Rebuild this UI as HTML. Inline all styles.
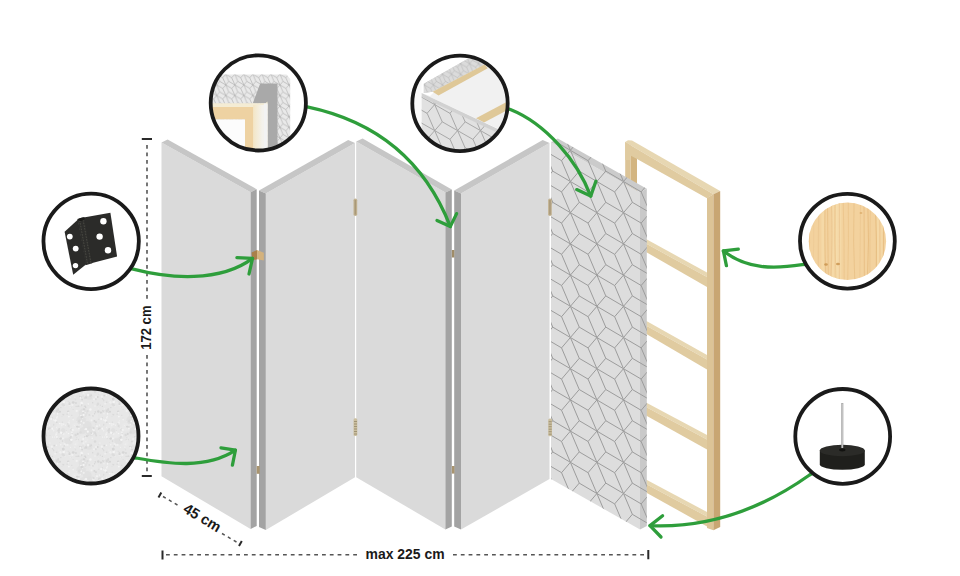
<!DOCTYPE html>
<html><head><meta charset="utf-8"><style>html,body{margin:0;padding:0;background:#fff;overflow:hidden}svg{display:block}</style></head>
<body><svg width="960" height="576" viewBox="0 0 960 576">
<rect width="960" height="576" fill="#fff"/>
<polygon points="630.5,148 637,151.5 637,200 630.5,200" fill="#d3b581"/>
<polygon points="625.2,142 630.5,145.2 630.5,200 625.2,200" fill="#dcc497"/>
<polygon points="625.2,142 628,140.2 632,140.6 720.2,191 713.4,194.3" fill="#e7d7b2"/>
<polygon points="625.2,142 713.4,194.3 707,198.2 637,158.9 630.5,155.5 630.5,160 625.2,160" fill="#e0cba0"/>
<polygon points="646,239.0 707,272.5 707,277.1 646,243.6" fill="#e7d7b2"/>
<polygon points="646,243.6 707,277.1 707,287.0 646,252.0" fill="#e0cba0"/>
<polygon points="646,320.8 707,355.0 707,359.6 646,325.40000000000003" fill="#e7d7b2"/>
<polygon points="646,325.40000000000003 707,359.6 707,369.5 646,333.8" fill="#e0cba0"/>
<polygon points="646,402.5 707,435.0 707,439.6 646,407.1" fill="#e7d7b2"/>
<polygon points="646,407.1 707,439.6 707,449.5 646,415.5" fill="#e0cba0"/>
<polygon points="646,479.4 707,512.0 707,516.6 646,484.0" fill="#e7d7b2"/>
<polygon points="646,484.0 707,516.6 707,526.5 646,492.4" fill="#e0cba0"/>
<polygon points="707,197.9 713.4,194.3 713.4,530.3 707,528" fill="#dcc497"/>
<polygon points="713.4,194.3 720.2,191 720.2,527 713.4,530.3" fill="#c8a673"/>
<polygon points="161.5,142.6 250.6,192.2 250.6,529.0 161.5,476.3" fill="#dadada" />
<polygon points="161.5,142.6 167.6,139.6 256.7,189.2 250.6,192.2" fill="#c6c6c6" />
<polygon points="250.6,192.2 256.7,189.2 256.7,526.0 250.6,529.0" fill="#a3a3a3" />
<polygon points="265.8,193.6 355.0,143.0 355.0,477.3 265.8,530.0" fill="#dadada" />
<polygon points="259.0,190.6 265.8,193.6 355.0,143.0 348.2,140.0" fill="#c6c6c6" />
<polygon points="259.0,190.6 265.8,193.6 265.8,530.0 259.0,527.0" fill="#a3a3a3" />
<polygon points="356.2,141.5 445.4,192.6 445.4,529.4 356.2,477.3" fill="#dadada" />
<polygon points="356.2,141.5 362.6,138.5 451.8,189.6 445.4,192.6" fill="#c6c6c6" />
<polygon points="445.4,192.6 451.8,189.6 451.8,526.4 445.4,529.4" fill="#a3a3a3" />
<polygon points="461.0,193.6 549.5,143.0 549.5,479.0 461.0,529.6" fill="#dadada" />
<polygon points="454.2,190.6 461.0,193.6 549.5,143.0 542.7,140.0" fill="#c6c6c6" />
<polygon points="454.2,190.6 461.0,193.6 461.0,529.6 454.2,526.6" fill="#a3a3a3" />
<clipPath id="c5"><polygon points="551.0,142.2 640.0,192.3 640.0,529.5 551.0,479.0"/><polygon points="551.0,142.2 557.8,138.6 646.8,188.7 640.0,192.3"/><polygon points="640.0,192.3 646.8,188.7 646.8,525.9 640.0,529.5"/></clipPath>
<polygon points="551.0,142.2 640.0,192.3 640.0,529.5 551.0,479.0" fill="#dddddd"/><polygon points="551.0,142.2 557.8,138.6 646.8,188.7 640.0,192.3" fill="#cbcbcb"/><polygon points="640.0,192.3 646.8,188.7 646.8,525.9 640.0,529.5" fill="#c9c9c9"/>
<path d="M517.3 87.9l8.85 -10.40M517.3 87.9l-8.85 10.40M517.3 87.9l8.85 20.80M517.3 87.9l-8.85 -20.80M517.3 87.9l17.70 10.40M517.3 87.9l-17.70 -10.40M517.3 119.1l8.85 -10.40M517.3 119.1l-8.85 10.40M517.3 119.1l8.85 20.80M517.3 119.1l-8.85 -20.80M517.3 119.1l17.70 10.40M517.3 119.1l-17.70 -10.40M517.3 150.3l8.85 -10.40M517.3 150.3l-8.85 10.40M517.3 150.3l8.85 20.80M517.3 150.3l-8.85 -20.80M517.3 150.3l17.70 10.40M517.3 150.3l-17.70 -10.40M517.3 181.5l8.85 -10.40M517.3 181.5l-8.85 10.40M517.3 181.5l8.85 20.80M517.3 181.5l-8.85 -20.80M517.3 181.5l17.70 10.40M517.3 181.5l-17.70 -10.40M517.3 212.7l8.85 -10.40M517.3 212.7l-8.85 10.40M517.3 212.7l8.85 20.80M517.3 212.7l-8.85 -20.80M517.3 212.7l17.70 10.40M517.3 212.7l-17.70 -10.40M517.3 243.9l8.85 -10.40M517.3 243.9l-8.85 10.40M517.3 243.9l8.85 20.80M517.3 243.9l-8.85 -20.80M517.3 243.9l17.70 10.40M517.3 243.9l-17.70 -10.40M517.3 275.1l8.85 -10.40M517.3 275.1l-8.85 10.40M517.3 275.1l8.85 20.80M517.3 275.1l-8.85 -20.80M517.3 275.1l17.70 10.40M517.3 275.1l-17.70 -10.40M517.3 306.3l8.85 -10.40M517.3 306.3l-8.85 10.40M517.3 306.3l8.85 20.80M517.3 306.3l-8.85 -20.80M517.3 306.3l17.70 10.40M517.3 306.3l-17.70 -10.40M517.3 337.5l8.85 -10.40M517.3 337.5l-8.85 10.40M517.3 337.5l8.85 20.80M517.3 337.5l-8.85 -20.80M517.3 337.5l17.70 10.40M517.3 337.5l-17.70 -10.40M517.3 368.7l8.85 -10.40M517.3 368.7l-8.85 10.40M517.3 368.7l8.85 20.80M517.3 368.7l-8.85 -20.80M517.3 368.7l17.70 10.40M517.3 368.7l-17.70 -10.40M517.3 399.9l8.85 -10.40M517.3 399.9l-8.85 10.40M517.3 399.9l8.85 20.80M517.3 399.9l-8.85 -20.80M517.3 399.9l17.70 10.40M517.3 399.9l-17.70 -10.40M517.3 431.1l8.85 -10.40M517.3 431.1l-8.85 10.40M517.3 431.1l8.85 20.80M517.3 431.1l-8.85 -20.80M517.3 431.1l17.70 10.40M517.3 431.1l-17.70 -10.40M517.3 462.3l8.85 -10.40M517.3 462.3l-8.85 10.40M517.3 462.3l8.85 20.80M517.3 462.3l-8.85 -20.80M517.3 462.3l17.70 10.40M517.3 462.3l-17.70 -10.40M517.3 493.5l8.85 -10.40M517.3 493.5l-8.85 10.40M517.3 493.5l8.85 20.80M517.3 493.5l-8.85 -20.80M517.3 493.5l17.70 10.40M517.3 493.5l-17.70 -10.40M517.3 524.7l8.85 -10.40M517.3 524.7l-8.85 10.40M517.3 524.7l8.85 20.80M517.3 524.7l-8.85 -20.80M517.3 524.7l17.70 10.40M517.3 524.7l-17.70 -10.40M517.3 555.9l8.85 -10.40M517.3 555.9l-8.85 10.40M517.3 555.9l8.85 20.80M517.3 555.9l-8.85 -20.80M517.3 555.9l17.70 10.40M517.3 555.9l-17.70 -10.40M543.9 87.9l8.85 -10.40M543.9 87.9l-8.85 10.40M543.9 87.9l8.85 20.80M543.9 87.9l-8.85 -20.80M543.9 87.9l17.70 10.40M543.9 87.9l-17.70 -10.40M543.9 119.1l8.85 -10.40M543.9 119.1l-8.85 10.40M543.9 119.1l8.85 20.80M543.9 119.1l-8.85 -20.80M543.9 119.1l17.70 10.40M543.9 119.1l-17.70 -10.40M543.9 150.3l8.85 -10.40M543.9 150.3l-8.85 10.40M543.9 150.3l8.85 20.80M543.9 150.3l-8.85 -20.80M543.9 150.3l17.70 10.40M543.9 150.3l-17.70 -10.40M543.9 181.5l8.85 -10.40M543.9 181.5l-8.85 10.40M543.9 181.5l8.85 20.80M543.9 181.5l-8.85 -20.80M543.9 181.5l17.70 10.40M543.9 181.5l-17.70 -10.40M543.9 212.7l8.85 -10.40M543.9 212.7l-8.85 10.40M543.9 212.7l8.85 20.80M543.9 212.7l-8.85 -20.80M543.9 212.7l17.70 10.40M543.9 212.7l-17.70 -10.40M543.9 243.9l8.85 -10.40M543.9 243.9l-8.85 10.40M543.9 243.9l8.85 20.80M543.9 243.9l-8.85 -20.80M543.9 243.9l17.70 10.40M543.9 243.9l-17.70 -10.40M543.9 275.1l8.85 -10.40M543.9 275.1l-8.85 10.40M543.9 275.1l8.85 20.80M543.9 275.1l-8.85 -20.80M543.9 275.1l17.70 10.40M543.9 275.1l-17.70 -10.40M543.9 306.3l8.85 -10.40M543.9 306.3l-8.85 10.40M543.9 306.3l8.85 20.80M543.9 306.3l-8.85 -20.80M543.9 306.3l17.70 10.40M543.9 306.3l-17.70 -10.40M543.9 337.5l8.85 -10.40M543.9 337.5l-8.85 10.40M543.9 337.5l8.85 20.80M543.9 337.5l-8.85 -20.80M543.9 337.5l17.70 10.40M543.9 337.5l-17.70 -10.40M543.9 368.7l8.85 -10.40M543.9 368.7l-8.85 10.40M543.9 368.7l8.85 20.80M543.9 368.7l-8.85 -20.80M543.9 368.7l17.70 10.40M543.9 368.7l-17.70 -10.40M543.9 399.9l8.85 -10.40M543.9 399.9l-8.85 10.40M543.9 399.9l8.85 20.80M543.9 399.9l-8.85 -20.80M543.9 399.9l17.70 10.40M543.9 399.9l-17.70 -10.40M543.9 431.1l8.85 -10.40M543.9 431.1l-8.85 10.40M543.9 431.1l8.85 20.80M543.9 431.1l-8.85 -20.80M543.9 431.1l17.70 10.40M543.9 431.1l-17.70 -10.40M543.9 462.3l8.85 -10.40M543.9 462.3l-8.85 10.40M543.9 462.3l8.85 20.80M543.9 462.3l-8.85 -20.80M543.9 462.3l17.70 10.40M543.9 462.3l-17.70 -10.40M543.9 493.5l8.85 -10.40M543.9 493.5l-8.85 10.40M543.9 493.5l8.85 20.80M543.9 493.5l-8.85 -20.80M543.9 493.5l17.70 10.40M543.9 493.5l-17.70 -10.40M543.9 524.7l8.85 -10.40M543.9 524.7l-8.85 10.40M543.9 524.7l8.85 20.80M543.9 524.7l-8.85 -20.80M543.9 524.7l17.70 10.40M543.9 524.7l-17.70 -10.40M543.9 555.9l8.85 -10.40M543.9 555.9l-8.85 10.40M543.9 555.9l8.85 20.80M543.9 555.9l-8.85 -20.80M543.9 555.9l17.70 10.40M543.9 555.9l-17.70 -10.40M570.4 87.9l8.85 -10.40M570.4 87.9l-8.85 10.40M570.4 87.9l8.85 20.80M570.4 87.9l-8.85 -20.80M570.4 87.9l17.70 10.40M570.4 87.9l-17.70 -10.40M570.4 119.1l8.85 -10.40M570.4 119.1l-8.85 10.40M570.4 119.1l8.85 20.80M570.4 119.1l-8.85 -20.80M570.4 119.1l17.70 10.40M570.4 119.1l-17.70 -10.40M570.4 150.3l8.85 -10.40M570.4 150.3l-8.85 10.40M570.4 150.3l8.85 20.80M570.4 150.3l-8.85 -20.80M570.4 150.3l17.70 10.40M570.4 150.3l-17.70 -10.40M570.4 181.5l8.85 -10.40M570.4 181.5l-8.85 10.40M570.4 181.5l8.85 20.80M570.4 181.5l-8.85 -20.80M570.4 181.5l17.70 10.40M570.4 181.5l-17.70 -10.40M570.4 212.7l8.85 -10.40M570.4 212.7l-8.85 10.40M570.4 212.7l8.85 20.80M570.4 212.7l-8.85 -20.80M570.4 212.7l17.70 10.40M570.4 212.7l-17.70 -10.40M570.4 243.9l8.85 -10.40M570.4 243.9l-8.85 10.40M570.4 243.9l8.85 20.80M570.4 243.9l-8.85 -20.80M570.4 243.9l17.70 10.40M570.4 243.9l-17.70 -10.40M570.4 275.1l8.85 -10.40M570.4 275.1l-8.85 10.40M570.4 275.1l8.85 20.80M570.4 275.1l-8.85 -20.80M570.4 275.1l17.70 10.40M570.4 275.1l-17.70 -10.40M570.4 306.3l8.85 -10.40M570.4 306.3l-8.85 10.40M570.4 306.3l8.85 20.80M570.4 306.3l-8.85 -20.80M570.4 306.3l17.70 10.40M570.4 306.3l-17.70 -10.40M570.4 337.5l8.85 -10.40M570.4 337.5l-8.85 10.40M570.4 337.5l8.85 20.80M570.4 337.5l-8.85 -20.80M570.4 337.5l17.70 10.40M570.4 337.5l-17.70 -10.40M570.4 368.7l8.85 -10.40M570.4 368.7l-8.85 10.40M570.4 368.7l8.85 20.80M570.4 368.7l-8.85 -20.80M570.4 368.7l17.70 10.40M570.4 368.7l-17.70 -10.40M570.4 399.9l8.85 -10.40M570.4 399.9l-8.85 10.40M570.4 399.9l8.85 20.80M570.4 399.9l-8.85 -20.80M570.4 399.9l17.70 10.40M570.4 399.9l-17.70 -10.40M570.4 431.1l8.85 -10.40M570.4 431.1l-8.85 10.40M570.4 431.1l8.85 20.80M570.4 431.1l-8.85 -20.80M570.4 431.1l17.70 10.40M570.4 431.1l-17.70 -10.40M570.4 462.3l8.85 -10.40M570.4 462.3l-8.85 10.40M570.4 462.3l8.85 20.80M570.4 462.3l-8.85 -20.80M570.4 462.3l17.70 10.40M570.4 462.3l-17.70 -10.40M570.4 493.5l8.85 -10.40M570.4 493.5l-8.85 10.40M570.4 493.5l8.85 20.80M570.4 493.5l-8.85 -20.80M570.4 493.5l17.70 10.40M570.4 493.5l-17.70 -10.40M570.4 524.7l8.85 -10.40M570.4 524.7l-8.85 10.40M570.4 524.7l8.85 20.80M570.4 524.7l-8.85 -20.80M570.4 524.7l17.70 10.40M570.4 524.7l-17.70 -10.40M570.4 555.9l8.85 -10.40M570.4 555.9l-8.85 10.40M570.4 555.9l8.85 20.80M570.4 555.9l-8.85 -20.80M570.4 555.9l17.70 10.40M570.4 555.9l-17.70 -10.40M596.9 87.9l8.85 -10.40M596.9 87.9l-8.85 10.40M596.9 87.9l8.85 20.80M596.9 87.9l-8.85 -20.80M596.9 87.9l17.70 10.40M596.9 87.9l-17.70 -10.40M596.9 119.1l8.85 -10.40M596.9 119.1l-8.85 10.40M596.9 119.1l8.85 20.80M596.9 119.1l-8.85 -20.80M596.9 119.1l17.70 10.40M596.9 119.1l-17.70 -10.40M596.9 150.3l8.85 -10.40M596.9 150.3l-8.85 10.40M596.9 150.3l8.85 20.80M596.9 150.3l-8.85 -20.80M596.9 150.3l17.70 10.40M596.9 150.3l-17.70 -10.40M596.9 181.5l8.85 -10.40M596.9 181.5l-8.85 10.40M596.9 181.5l8.85 20.80M596.9 181.5l-8.85 -20.80M596.9 181.5l17.70 10.40M596.9 181.5l-17.70 -10.40M596.9 212.7l8.85 -10.40M596.9 212.7l-8.85 10.40M596.9 212.7l8.85 20.80M596.9 212.7l-8.85 -20.80M596.9 212.7l17.70 10.40M596.9 212.7l-17.70 -10.40M596.9 243.9l8.85 -10.40M596.9 243.9l-8.85 10.40M596.9 243.9l8.85 20.80M596.9 243.9l-8.85 -20.80M596.9 243.9l17.70 10.40M596.9 243.9l-17.70 -10.40M596.9 275.1l8.85 -10.40M596.9 275.1l-8.85 10.40M596.9 275.1l8.85 20.80M596.9 275.1l-8.85 -20.80M596.9 275.1l17.70 10.40M596.9 275.1l-17.70 -10.40M596.9 306.3l8.85 -10.40M596.9 306.3l-8.85 10.40M596.9 306.3l8.85 20.80M596.9 306.3l-8.85 -20.80M596.9 306.3l17.70 10.40M596.9 306.3l-17.70 -10.40M596.9 337.5l8.85 -10.40M596.9 337.5l-8.85 10.40M596.9 337.5l8.85 20.80M596.9 337.5l-8.85 -20.80M596.9 337.5l17.70 10.40M596.9 337.5l-17.70 -10.40M596.9 368.7l8.85 -10.40M596.9 368.7l-8.85 10.40M596.9 368.7l8.85 20.80M596.9 368.7l-8.85 -20.80M596.9 368.7l17.70 10.40M596.9 368.7l-17.70 -10.40M596.9 399.9l8.85 -10.40M596.9 399.9l-8.85 10.40M596.9 399.9l8.85 20.80M596.9 399.9l-8.85 -20.80M596.9 399.9l17.70 10.40M596.9 399.9l-17.70 -10.40M596.9 431.1l8.85 -10.40M596.9 431.1l-8.85 10.40M596.9 431.1l8.85 20.80M596.9 431.1l-8.85 -20.80M596.9 431.1l17.70 10.40M596.9 431.1l-17.70 -10.40M596.9 462.3l8.85 -10.40M596.9 462.3l-8.85 10.40M596.9 462.3l8.85 20.80M596.9 462.3l-8.85 -20.80M596.9 462.3l17.70 10.40M596.9 462.3l-17.70 -10.40M596.9 493.5l8.85 -10.40M596.9 493.5l-8.85 10.40M596.9 493.5l8.85 20.80M596.9 493.5l-8.85 -20.80M596.9 493.5l17.70 10.40M596.9 493.5l-17.70 -10.40M596.9 524.7l8.85 -10.40M596.9 524.7l-8.85 10.40M596.9 524.7l8.85 20.80M596.9 524.7l-8.85 -20.80M596.9 524.7l17.70 10.40M596.9 524.7l-17.70 -10.40M596.9 555.9l8.85 -10.40M596.9 555.9l-8.85 10.40M596.9 555.9l8.85 20.80M596.9 555.9l-8.85 -20.80M596.9 555.9l17.70 10.40M596.9 555.9l-17.70 -10.40M623.5 87.9l8.85 -10.40M623.5 87.9l-8.85 10.40M623.5 87.9l8.85 20.80M623.5 87.9l-8.85 -20.80M623.5 87.9l17.70 10.40M623.5 87.9l-17.70 -10.40M623.5 119.1l8.85 -10.40M623.5 119.1l-8.85 10.40M623.5 119.1l8.85 20.80M623.5 119.1l-8.85 -20.80M623.5 119.1l17.70 10.40M623.5 119.1l-17.70 -10.40M623.5 150.3l8.85 -10.40M623.5 150.3l-8.85 10.40M623.5 150.3l8.85 20.80M623.5 150.3l-8.85 -20.80M623.5 150.3l17.70 10.40M623.5 150.3l-17.70 -10.40M623.5 181.5l8.85 -10.40M623.5 181.5l-8.85 10.40M623.5 181.5l8.85 20.80M623.5 181.5l-8.85 -20.80M623.5 181.5l17.70 10.40M623.5 181.5l-17.70 -10.40M623.5 212.7l8.85 -10.40M623.5 212.7l-8.85 10.40M623.5 212.7l8.85 20.80M623.5 212.7l-8.85 -20.80M623.5 212.7l17.70 10.40M623.5 212.7l-17.70 -10.40M623.5 243.9l8.85 -10.40M623.5 243.9l-8.85 10.40M623.5 243.9l8.85 20.80M623.5 243.9l-8.85 -20.80M623.5 243.9l17.70 10.40M623.5 243.9l-17.70 -10.40M623.5 275.1l8.85 -10.40M623.5 275.1l-8.85 10.40M623.5 275.1l8.85 20.80M623.5 275.1l-8.85 -20.80M623.5 275.1l17.70 10.40M623.5 275.1l-17.70 -10.40M623.5 306.3l8.85 -10.40M623.5 306.3l-8.85 10.40M623.5 306.3l8.85 20.80M623.5 306.3l-8.85 -20.80M623.5 306.3l17.70 10.40M623.5 306.3l-17.70 -10.40M623.5 337.5l8.85 -10.40M623.5 337.5l-8.85 10.40M623.5 337.5l8.85 20.80M623.5 337.5l-8.85 -20.80M623.5 337.5l17.70 10.40M623.5 337.5l-17.70 -10.40M623.5 368.7l8.85 -10.40M623.5 368.7l-8.85 10.40M623.5 368.7l8.85 20.80M623.5 368.7l-8.85 -20.80M623.5 368.7l17.70 10.40M623.5 368.7l-17.70 -10.40M623.5 399.9l8.85 -10.40M623.5 399.9l-8.85 10.40M623.5 399.9l8.85 20.80M623.5 399.9l-8.85 -20.80M623.5 399.9l17.70 10.40M623.5 399.9l-17.70 -10.40M623.5 431.1l8.85 -10.40M623.5 431.1l-8.85 10.40M623.5 431.1l8.85 20.80M623.5 431.1l-8.85 -20.80M623.5 431.1l17.70 10.40M623.5 431.1l-17.70 -10.40M623.5 462.3l8.85 -10.40M623.5 462.3l-8.85 10.40M623.5 462.3l8.85 20.80M623.5 462.3l-8.85 -20.80M623.5 462.3l17.70 10.40M623.5 462.3l-17.70 -10.40M623.5 493.5l8.85 -10.40M623.5 493.5l-8.85 10.40M623.5 493.5l8.85 20.80M623.5 493.5l-8.85 -20.80M623.5 493.5l17.70 10.40M623.5 493.5l-17.70 -10.40M623.5 524.7l8.85 -10.40M623.5 524.7l-8.85 10.40M623.5 524.7l8.85 20.80M623.5 524.7l-8.85 -20.80M623.5 524.7l17.70 10.40M623.5 524.7l-17.70 -10.40M623.5 555.9l8.85 -10.40M623.5 555.9l-8.85 10.40M623.5 555.9l8.85 20.80M623.5 555.9l-8.85 -20.80M623.5 555.9l17.70 10.40M623.5 555.9l-17.70 -10.40M650.0 87.9l8.85 -10.40M650.0 87.9l-8.85 10.40M650.0 87.9l8.85 20.80M650.0 87.9l-8.85 -20.80M650.0 87.9l17.70 10.40M650.0 87.9l-17.70 -10.40M650.0 119.1l8.85 -10.40M650.0 119.1l-8.85 10.40M650.0 119.1l8.85 20.80M650.0 119.1l-8.85 -20.80M650.0 119.1l17.70 10.40M650.0 119.1l-17.70 -10.40M650.0 150.3l8.85 -10.40M650.0 150.3l-8.85 10.40M650.0 150.3l8.85 20.80M650.0 150.3l-8.85 -20.80M650.0 150.3l17.70 10.40M650.0 150.3l-17.70 -10.40M650.0 181.5l8.85 -10.40M650.0 181.5l-8.85 10.40M650.0 181.5l8.85 20.80M650.0 181.5l-8.85 -20.80M650.0 181.5l17.70 10.40M650.0 181.5l-17.70 -10.40M650.0 212.7l8.85 -10.40M650.0 212.7l-8.85 10.40M650.0 212.7l8.85 20.80M650.0 212.7l-8.85 -20.80M650.0 212.7l17.70 10.40M650.0 212.7l-17.70 -10.40M650.0 243.9l8.85 -10.40M650.0 243.9l-8.85 10.40M650.0 243.9l8.85 20.80M650.0 243.9l-8.85 -20.80M650.0 243.9l17.70 10.40M650.0 243.9l-17.70 -10.40M650.0 275.1l8.85 -10.40M650.0 275.1l-8.85 10.40M650.0 275.1l8.85 20.80M650.0 275.1l-8.85 -20.80M650.0 275.1l17.70 10.40M650.0 275.1l-17.70 -10.40M650.0 306.3l8.85 -10.40M650.0 306.3l-8.85 10.40M650.0 306.3l8.85 20.80M650.0 306.3l-8.85 -20.80M650.0 306.3l17.70 10.40M650.0 306.3l-17.70 -10.40M650.0 337.5l8.85 -10.40M650.0 337.5l-8.85 10.40M650.0 337.5l8.85 20.80M650.0 337.5l-8.85 -20.80M650.0 337.5l17.70 10.40M650.0 337.5l-17.70 -10.40M650.0 368.7l8.85 -10.40M650.0 368.7l-8.85 10.40M650.0 368.7l8.85 20.80M650.0 368.7l-8.85 -20.80M650.0 368.7l17.70 10.40M650.0 368.7l-17.70 -10.40M650.0 399.9l8.85 -10.40M650.0 399.9l-8.85 10.40M650.0 399.9l8.85 20.80M650.0 399.9l-8.85 -20.80M650.0 399.9l17.70 10.40M650.0 399.9l-17.70 -10.40M650.0 431.1l8.85 -10.40M650.0 431.1l-8.85 10.40M650.0 431.1l8.85 20.80M650.0 431.1l-8.85 -20.80M650.0 431.1l17.70 10.40M650.0 431.1l-17.70 -10.40M650.0 462.3l8.85 -10.40M650.0 462.3l-8.85 10.40M650.0 462.3l8.85 20.80M650.0 462.3l-8.85 -20.80M650.0 462.3l17.70 10.40M650.0 462.3l-17.70 -10.40M650.0 493.5l8.85 -10.40M650.0 493.5l-8.85 10.40M650.0 493.5l8.85 20.80M650.0 493.5l-8.85 -20.80M650.0 493.5l17.70 10.40M650.0 493.5l-17.70 -10.40M650.0 524.7l8.85 -10.40M650.0 524.7l-8.85 10.40M650.0 524.7l8.85 20.80M650.0 524.7l-8.85 -20.80M650.0 524.7l17.70 10.40M650.0 524.7l-17.70 -10.40M650.0 555.9l8.85 -10.40M650.0 555.9l-8.85 10.40M650.0 555.9l8.85 20.80M650.0 555.9l-8.85 -20.80M650.0 555.9l17.70 10.40M650.0 555.9l-17.70 -10.40M676.6 87.9l8.85 -10.40M676.6 87.9l-8.85 10.40M676.6 87.9l8.85 20.80M676.6 87.9l-8.85 -20.80M676.6 87.9l17.70 10.40M676.6 87.9l-17.70 -10.40M676.6 119.1l8.85 -10.40M676.6 119.1l-8.85 10.40M676.6 119.1l8.85 20.80M676.6 119.1l-8.85 -20.80M676.6 119.1l17.70 10.40M676.6 119.1l-17.70 -10.40M676.6 150.3l8.85 -10.40M676.6 150.3l-8.85 10.40M676.6 150.3l8.85 20.80M676.6 150.3l-8.85 -20.80M676.6 150.3l17.70 10.40M676.6 150.3l-17.70 -10.40M676.6 181.5l8.85 -10.40M676.6 181.5l-8.85 10.40M676.6 181.5l8.85 20.80M676.6 181.5l-8.85 -20.80M676.6 181.5l17.70 10.40M676.6 181.5l-17.70 -10.40M676.6 212.7l8.85 -10.40M676.6 212.7l-8.85 10.40M676.6 212.7l8.85 20.80M676.6 212.7l-8.85 -20.80M676.6 212.7l17.70 10.40M676.6 212.7l-17.70 -10.40M676.6 243.9l8.85 -10.40M676.6 243.9l-8.85 10.40M676.6 243.9l8.85 20.80M676.6 243.9l-8.85 -20.80M676.6 243.9l17.70 10.40M676.6 243.9l-17.70 -10.40M676.6 275.1l8.85 -10.40M676.6 275.1l-8.85 10.40M676.6 275.1l8.85 20.80M676.6 275.1l-8.85 -20.80M676.6 275.1l17.70 10.40M676.6 275.1l-17.70 -10.40M676.6 306.3l8.85 -10.40M676.6 306.3l-8.85 10.40M676.6 306.3l8.85 20.80M676.6 306.3l-8.85 -20.80M676.6 306.3l17.70 10.40M676.6 306.3l-17.70 -10.40M676.6 337.5l8.85 -10.40M676.6 337.5l-8.85 10.40M676.6 337.5l8.85 20.80M676.6 337.5l-8.85 -20.80M676.6 337.5l17.70 10.40M676.6 337.5l-17.70 -10.40M676.6 368.7l8.85 -10.40M676.6 368.7l-8.85 10.40M676.6 368.7l8.85 20.80M676.6 368.7l-8.85 -20.80M676.6 368.7l17.70 10.40M676.6 368.7l-17.70 -10.40M676.6 399.9l8.85 -10.40M676.6 399.9l-8.85 10.40M676.6 399.9l8.85 20.80M676.6 399.9l-8.85 -20.80M676.6 399.9l17.70 10.40M676.6 399.9l-17.70 -10.40M676.6 431.1l8.85 -10.40M676.6 431.1l-8.85 10.40M676.6 431.1l8.85 20.80M676.6 431.1l-8.85 -20.80M676.6 431.1l17.70 10.40M676.6 431.1l-17.70 -10.40M676.6 462.3l8.85 -10.40M676.6 462.3l-8.85 10.40M676.6 462.3l8.85 20.80M676.6 462.3l-8.85 -20.80M676.6 462.3l17.70 10.40M676.6 462.3l-17.70 -10.40M676.6 493.5l8.85 -10.40M676.6 493.5l-8.85 10.40M676.6 493.5l8.85 20.80M676.6 493.5l-8.85 -20.80M676.6 493.5l17.70 10.40M676.6 493.5l-17.70 -10.40M676.6 524.7l8.85 -10.40M676.6 524.7l-8.85 10.40M676.6 524.7l8.85 20.80M676.6 524.7l-8.85 -20.80M676.6 524.7l17.70 10.40M676.6 524.7l-17.70 -10.40M676.6 555.9l8.85 -10.40M676.6 555.9l-8.85 10.40M676.6 555.9l8.85 20.80M676.6 555.9l-8.85 -20.80M676.6 555.9l17.70 10.40M676.6 555.9l-17.70 -10.40" stroke="#9c9c9c" stroke-width="1" fill="none" clip-path="url(#c5)"/>

<rect x="353.5" y="198.5" width="3.7" height="17.6" rx="1.8" fill="#c2b291"/><rect x="354.6" y="200" width="1.5" height="14.6" fill="#a99878"/>
<rect x="548.1" y="198.5" width="3.7" height="17.6" rx="1.8" fill="#c2b291"/><rect x="549.2" y="200" width="1.5" height="14.6" fill="#a99878"/>
<rect x="353.5" y="418.3" width="3.8" height="17.8" rx="1.6" fill="#cbbf9f"/>
<rect x="548.2" y="418.5" width="3.8" height="17.8" rx="1.6" fill="#cbbf9f"/>
<g stroke="#9a8d70" stroke-width="0.9"><path d="M354 421.5h3M354 424h3M354 426.5h3M354 429h3M354 431.5h3M354 434h3"/><path d="M548.7 421.7h3M548.7 424.2h3M548.7 426.7h3M548.7 429.2h3M548.7 431.7h3M548.7 434.2h3"/></g>
<rect x="451.9" y="250" width="2.4" height="7.5" fill="#9f8c68"/>
<rect x="451.9" y="466" width="2.6" height="7.6" fill="#a89470"/>
<rect x="256.7" y="466" width="3" height="7.8" fill="#a89470"/>
<polygon points="257,250 263.8,252.8 263.8,260.5 257.4,259.2" fill="#d4b27c"/><polygon points="251.6,252.6 257,250 257.4,259.2 252.4,260.3" fill="#a9804a"/>


<g fill="none" stroke="#2a2a2a">
<path d="M141.8 139h10.2M141.8 476h10" stroke-width="2"/>
<path d="M147 145v155M147 355v118" stroke="#555" stroke-width="1.6" stroke-dasharray="3.7 3.8"/>
<path d="M162.5 550.4v9.2M648.3 550v9.2" stroke-width="2"/>
<path d="M166 554.8h191.5M453 554.8h192" stroke="#555" stroke-width="1.6" stroke-dasharray="3.8 4"/>
<path d="M158.5 497.5l2.8 -5M239 546l2.8 -5" stroke-width="2"/>
<path d="M163 496.5l17 10M222 533.5l17 10" stroke="#555" stroke-width="1.5" stroke-dasharray="3.2 3.6"/>
</g>
<text x="0" y="0" transform="translate(151.2,349.8) rotate(-90)" font-family="Liberation Sans" font-weight="bold" font-size="15.2" textLength="44.3" lengthAdjust="spacingAndGlyphs" fill="#1a1a1a">172 cm</text>
<text x="365.6" y="558.9" font-family="Liberation Sans" font-weight="bold" font-size="14" textLength="79" lengthAdjust="spacingAndGlyphs" fill="#1a1a1a">max 225 cm</text>
<text x="0" y="0" transform="translate(182.2,511.5) rotate(31)" font-family="Liberation Sans" font-weight="bold" font-size="14.8" textLength="41" lengthAdjust="spacingAndGlyphs" fill="#1a1a1a">45 cm</text>

<g fill="none" stroke="#2e9e3b" stroke-width="3.3" stroke-linecap="round" stroke-linejoin="round">
<path d="M303 106.5L307.2 106.9C376.8 121.5 424.5 160.5 450.3 226.5"/><path d="M437 220.5L450.3 226.6L456.6 213.6"/>
<path d="M128 268L132.1 268.9C169.3 278.6 220.0 282.8 252.5 258.4"/><path d="M236.9 257.6L252.5 258.4L249 274"/>
<path d="M132 457.4L136.0 458.0C168.3 463.7 206.3 469.6 235.4 450.2"/><path d="M221 447.8L235.4 450.2L232.4 465.2"/>
<path d="M506 108L510.4 109.5C545.8 123.7 577.4 160.8 590.7 196.1"/><path d="M576.7 189.6L590.7 196.1L595.9 181.3"/>
<path d="M806 264.3L802.1 264.7C774.3 268.9 746.6 269.5 723.4 250.9"/><path d="M738.3 249.1L723.4 250.9L726.4 265.7"/>
<path d="M812 473.5L809.5 475.0C761.7 509.0 709.3 528.2 650.0 525.6"/><path d="M662.6 515.8L650 525.6L661 537"/>
</g>
<clipPath id="k1"><circle cx="258.3" cy="102.9" r="47.6"/></clipPath>
<circle cx="258.3" cy="102.9" r="47.6" fill="#fff"/>
<g clip-path="url(#k1)">
<pattern id="tex1" width="9.03" height="10.61" patternUnits="userSpaceOnUse"><rect width="9.03" height="10.61" fill="#e9e9e9"/><path d="M0.00 0.00l3.01 -3.54M0.00 0.00l-3.01 3.54M0.00 0.00l3.01 7.07M0.00 0.00l-3.01 -7.07M0.00 0.00l6.02 3.54M0.00 0.00l-6.02 -3.54M9.03 0.00l3.01 -3.54M9.03 0.00l-3.01 3.54M9.03 0.00l3.01 7.07M9.03 0.00l-3.01 -7.07M9.03 0.00l6.02 3.54M9.03 0.00l-6.02 -3.54M0.00 10.61l3.01 -3.54M0.00 10.61l-3.01 3.54M0.00 10.61l3.01 7.07M0.00 10.61l-3.01 -7.07M0.00 10.61l6.02 3.54M0.00 10.61l-6.02 -3.54M9.03 10.61l3.01 -3.54M9.03 10.61l-3.01 3.54M9.03 10.61l3.01 7.07M9.03 10.61l-3.01 -7.07M9.03 10.61l6.02 3.54M9.03 10.61l-6.02 -3.54" stroke="#a9a9a9" stroke-width="0.6" fill="none"/></pattern>
<linearGradient id="cr1" x1="0" x2="1" y1="0" y2="0"><stop offset="0" stop-color="#f3e6c6"/><stop offset="1" stop-color="#f4f4f2"/></linearGradient>
<polygon points="200,74.6 286.5,74.6 290.2,79 290.2,160 200,160" fill="url(#tex1)"/>
<polygon points="260.2,83.4 277.5,83.4 277.5,160 267.5,160 267.5,103.3 252.8,103.3" fill="#a9a9a9"/>
<polygon points="200,103.3 265.5,103.3 267.5,101.5 267.5,160 253.1,160 253.1,106.9 200,106.9" fill="#f4ecd4"/>
<rect x="253.1" y="105" width="10.7" height="56" fill="url(#cr1)"/>
<rect x="263.8" y="103.5" width="3.7" height="57" fill="#f3f3f3"/>
<polygon points="200,106.9 253.1,106.9 253.1,160 245,160 245,119.5 200,119.5" fill="#eed2a2"/>
<rect x="200" y="119.5" width="45" height="50" fill="#fcfcfc"/>
</g>
<circle cx="258.3" cy="102.9" r="47.6" fill="none" stroke="#1a1a1a" stroke-width="3.8"/><clipPath id="k2"><circle cx="460" cy="103.4" r="47.7"/></clipPath>
<circle cx="460" cy="103.4" r="47.7" fill="#fff"/>
<g clip-path="url(#k2)">
<polygon points="430,96 470,57.5 515,50 515,136.5 421.6,93.1" fill="#f1f1f1"/>
<polygon points="423.8,83.8 470,57.5 492,55 484.6,64.4 432.6,91.8 423.8,93" fill="#c6c6c6"/>
<polygon points="423.8,83.8 470,57.5 492,55 484.6,64.4 432.6,91.8 423.8,93" fill="url(#tex1)" opacity="0.6"/>
<polygon points="432.6,91.8 484.6,64.4 487.8,68.2 438.5,95.6" fill="#dfc898"/>
<polygon points="476,118.2 514,98 514,106.5 484,122.5" fill="#dfc898"/>
<polygon points="412,60 421.6,60 421.6,170 412,170" fill="#fafafa"/>
<polygon points="421.6,96.6 514,140 514,170 421.6,170" fill="#e1e1e1"/>
<clipPath id="cf2"><polygon points="421.6,96.6 514,140 514,170 421.6,170"/></clipPath>
<path d="M388.9 52.6l7.60 -8.70M388.9 52.6l-7.60 8.70M388.9 52.6l7.60 17.40M388.9 52.6l-7.60 -17.40M388.9 52.6l15.20 8.70M388.9 52.6l-15.20 -8.70M388.9 78.6l7.60 -8.70M388.9 78.6l-7.60 8.70M388.9 78.6l7.60 17.40M388.9 78.6l-7.60 -17.40M388.9 78.6l15.20 8.70M388.9 78.6l-15.20 -8.70M388.9 104.6l7.60 -8.70M388.9 104.6l-7.60 8.70M388.9 104.6l7.60 17.40M388.9 104.6l-7.60 -17.40M388.9 104.6l15.20 8.70M388.9 104.6l-15.20 -8.70M388.9 130.6l7.60 -8.70M388.9 130.6l-7.60 8.70M388.9 130.6l7.60 17.40M388.9 130.6l-7.60 -17.40M388.9 130.6l15.20 8.70M388.9 130.6l-15.20 -8.70M388.9 156.6l7.60 -8.70M388.9 156.6l-7.60 8.70M388.9 156.6l7.60 17.40M388.9 156.6l-7.60 -17.40M388.9 156.6l15.20 8.70M388.9 156.6l-15.20 -8.70M388.9 182.6l7.60 -8.70M388.9 182.6l-7.60 8.70M388.9 182.6l7.60 17.40M388.9 182.6l-7.60 -17.40M388.9 182.6l15.20 8.70M388.9 182.6l-15.20 -8.70M411.8 52.6l7.60 -8.70M411.8 52.6l-7.60 8.70M411.8 52.6l7.60 17.40M411.8 52.6l-7.60 -17.40M411.8 52.6l15.20 8.70M411.8 52.6l-15.20 -8.70M411.8 78.6l7.60 -8.70M411.8 78.6l-7.60 8.70M411.8 78.6l7.60 17.40M411.8 78.6l-7.60 -17.40M411.8 78.6l15.20 8.70M411.8 78.6l-15.20 -8.70M411.8 104.6l7.60 -8.70M411.8 104.6l-7.60 8.70M411.8 104.6l7.60 17.40M411.8 104.6l-7.60 -17.40M411.8 104.6l15.20 8.70M411.8 104.6l-15.20 -8.70M411.8 130.6l7.60 -8.70M411.8 130.6l-7.60 8.70M411.8 130.6l7.60 17.40M411.8 130.6l-7.60 -17.40M411.8 130.6l15.20 8.70M411.8 130.6l-15.20 -8.70M411.8 156.6l7.60 -8.70M411.8 156.6l-7.60 8.70M411.8 156.6l7.60 17.40M411.8 156.6l-7.60 -17.40M411.8 156.6l15.20 8.70M411.8 156.6l-15.20 -8.70M411.8 182.6l7.60 -8.70M411.8 182.6l-7.60 8.70M411.8 182.6l7.60 17.40M411.8 182.6l-7.60 -17.40M411.8 182.6l15.20 8.70M411.8 182.6l-15.20 -8.70M434.7 52.6l7.60 -8.70M434.7 52.6l-7.60 8.70M434.7 52.6l7.60 17.40M434.7 52.6l-7.60 -17.40M434.7 52.6l15.20 8.70M434.7 52.6l-15.20 -8.70M434.7 78.6l7.60 -8.70M434.7 78.6l-7.60 8.70M434.7 78.6l7.60 17.40M434.7 78.6l-7.60 -17.40M434.7 78.6l15.20 8.70M434.7 78.6l-15.20 -8.70M434.7 104.6l7.60 -8.70M434.7 104.6l-7.60 8.70M434.7 104.6l7.60 17.40M434.7 104.6l-7.60 -17.40M434.7 104.6l15.20 8.70M434.7 104.6l-15.20 -8.70M434.7 130.6l7.60 -8.70M434.7 130.6l-7.60 8.70M434.7 130.6l7.60 17.40M434.7 130.6l-7.60 -17.40M434.7 130.6l15.20 8.70M434.7 130.6l-15.20 -8.70M434.7 156.6l7.60 -8.70M434.7 156.6l-7.60 8.70M434.7 156.6l7.60 17.40M434.7 156.6l-7.60 -17.40M434.7 156.6l15.20 8.70M434.7 156.6l-15.20 -8.70M434.7 182.6l7.60 -8.70M434.7 182.6l-7.60 8.70M434.7 182.6l7.60 17.40M434.7 182.6l-7.60 -17.40M434.7 182.6l15.20 8.70M434.7 182.6l-15.20 -8.70M457.6 52.6l7.60 -8.70M457.6 52.6l-7.60 8.70M457.6 52.6l7.60 17.40M457.6 52.6l-7.60 -17.40M457.6 52.6l15.20 8.70M457.6 52.6l-15.20 -8.70M457.6 78.6l7.60 -8.70M457.6 78.6l-7.60 8.70M457.6 78.6l7.60 17.40M457.6 78.6l-7.60 -17.40M457.6 78.6l15.20 8.70M457.6 78.6l-15.20 -8.70M457.6 104.6l7.60 -8.70M457.6 104.6l-7.60 8.70M457.6 104.6l7.60 17.40M457.6 104.6l-7.60 -17.40M457.6 104.6l15.20 8.70M457.6 104.6l-15.20 -8.70M457.6 130.6l7.60 -8.70M457.6 130.6l-7.60 8.70M457.6 130.6l7.60 17.40M457.6 130.6l-7.60 -17.40M457.6 130.6l15.20 8.70M457.6 130.6l-15.20 -8.70M457.6 156.6l7.60 -8.70M457.6 156.6l-7.60 8.70M457.6 156.6l7.60 17.40M457.6 156.6l-7.60 -17.40M457.6 156.6l15.20 8.70M457.6 156.6l-15.20 -8.70M457.6 182.6l7.60 -8.70M457.6 182.6l-7.60 8.70M457.6 182.6l7.60 17.40M457.6 182.6l-7.60 -17.40M457.6 182.6l15.20 8.70M457.6 182.6l-15.20 -8.70M480.5 52.6l7.60 -8.70M480.5 52.6l-7.60 8.70M480.5 52.6l7.60 17.40M480.5 52.6l-7.60 -17.40M480.5 52.6l15.20 8.70M480.5 52.6l-15.20 -8.70M480.5 78.6l7.60 -8.70M480.5 78.6l-7.60 8.70M480.5 78.6l7.60 17.40M480.5 78.6l-7.60 -17.40M480.5 78.6l15.20 8.70M480.5 78.6l-15.20 -8.70M480.5 104.6l7.60 -8.70M480.5 104.6l-7.60 8.70M480.5 104.6l7.60 17.40M480.5 104.6l-7.60 -17.40M480.5 104.6l15.20 8.70M480.5 104.6l-15.20 -8.70M480.5 130.6l7.60 -8.70M480.5 130.6l-7.60 8.70M480.5 130.6l7.60 17.40M480.5 130.6l-7.60 -17.40M480.5 130.6l15.20 8.70M480.5 130.6l-15.20 -8.70M480.5 156.6l7.60 -8.70M480.5 156.6l-7.60 8.70M480.5 156.6l7.60 17.40M480.5 156.6l-7.60 -17.40M480.5 156.6l15.20 8.70M480.5 156.6l-15.20 -8.70M480.5 182.6l7.60 -8.70M480.5 182.6l-7.60 8.70M480.5 182.6l7.60 17.40M480.5 182.6l-7.60 -17.40M480.5 182.6l15.20 8.70M480.5 182.6l-15.20 -8.70M503.4 52.6l7.60 -8.70M503.4 52.6l-7.60 8.70M503.4 52.6l7.60 17.40M503.4 52.6l-7.60 -17.40M503.4 52.6l15.20 8.70M503.4 52.6l-15.20 -8.70M503.4 78.6l7.60 -8.70M503.4 78.6l-7.60 8.70M503.4 78.6l7.60 17.40M503.4 78.6l-7.60 -17.40M503.4 78.6l15.20 8.70M503.4 78.6l-15.20 -8.70M503.4 104.6l7.60 -8.70M503.4 104.6l-7.60 8.70M503.4 104.6l7.60 17.40M503.4 104.6l-7.60 -17.40M503.4 104.6l15.20 8.70M503.4 104.6l-15.20 -8.70M503.4 130.6l7.60 -8.70M503.4 130.6l-7.60 8.70M503.4 130.6l7.60 17.40M503.4 130.6l-7.60 -17.40M503.4 130.6l15.20 8.70M503.4 130.6l-15.20 -8.70M503.4 156.6l7.60 -8.70M503.4 156.6l-7.60 8.70M503.4 156.6l7.60 17.40M503.4 156.6l-7.60 -17.40M503.4 156.6l15.20 8.70M503.4 156.6l-15.20 -8.70M503.4 182.6l7.60 -8.70M503.4 182.6l-7.60 8.70M503.4 182.6l7.60 17.40M503.4 182.6l-7.60 -17.40M503.4 182.6l15.20 8.70M503.4 182.6l-15.20 -8.70M526.3 52.6l7.60 -8.70M526.3 52.6l-7.60 8.70M526.3 52.6l7.60 17.40M526.3 52.6l-7.60 -17.40M526.3 52.6l15.20 8.70M526.3 52.6l-15.20 -8.70M526.3 78.6l7.60 -8.70M526.3 78.6l-7.60 8.70M526.3 78.6l7.60 17.40M526.3 78.6l-7.60 -17.40M526.3 78.6l15.20 8.70M526.3 78.6l-15.20 -8.70M526.3 104.6l7.60 -8.70M526.3 104.6l-7.60 8.70M526.3 104.6l7.60 17.40M526.3 104.6l-7.60 -17.40M526.3 104.6l15.20 8.70M526.3 104.6l-15.20 -8.70M526.3 130.6l7.60 -8.70M526.3 130.6l-7.60 8.70M526.3 130.6l7.60 17.40M526.3 130.6l-7.60 -17.40M526.3 130.6l15.20 8.70M526.3 130.6l-15.20 -8.70M526.3 156.6l7.60 -8.70M526.3 156.6l-7.60 8.70M526.3 156.6l7.60 17.40M526.3 156.6l-7.60 -17.40M526.3 156.6l15.20 8.70M526.3 156.6l-15.20 -8.70M526.3 182.6l7.60 -8.70M526.3 182.6l-7.60 8.70M526.3 182.6l7.60 17.40M526.3 182.6l-7.60 -17.40M526.3 182.6l15.20 8.70M526.3 182.6l-15.20 -8.70" stroke="#a2a2a2" stroke-width="0.9" fill="none" clip-path="url(#cf2)"/>
<polygon points="421.6,93.1 514,136.5 514,140.5 421.6,97" fill="#d1d1d1"/>
</g>
<circle cx="460" cy="103.4" r="47.7" fill="none" stroke="#1a1a1a" stroke-width="3.8"/><clipPath id="k3"><circle cx="91.15" cy="241.35" r="47.7"/></clipPath>
<circle cx="91.15" cy="241.35" r="47.7" fill="#fff"/>
<g clip-path="url(#k3)"><polygon points="64.6,231.8 78.0,219.4 86.2,264.3 73.2,274.8" fill="#2b2b29"/><polygon points="83.7,217.5 110.4,212.7 117.1,256.6 91.3,263.3" fill="#2b2b29"/><polygon points="77.4,219.0 84.3,217.1 92.3,263.3 85.6,265.2" fill="#2d2d2b"/><line x1="79.7" y1="220.3" x2="87.5" y2="263.7" stroke="#57574f" stroke-width="0.7" stroke-dasharray="1.6 1.2"/><line x1="83.1" y1="219.8" x2="91.0" y2="263.3" stroke="#57574f" stroke-width="0.7" stroke-dasharray="1.6 1.2"/><ellipse cx="81.5" cy="219.3" rx="3.4" ry="1.6" fill="#1c1c1a" transform="rotate(-12 81.5 219.3)"/><circle cx="69.8" cy="236.6" r="2.9" fill="#fff"/><circle cx="75.7" cy="248.6" r="2.9" fill="#fff"/><circle cx="75.5" cy="265.6" r="2.7" fill="#fff"/><circle cx="103.4" cy="221.3" r="3.2" fill="#fff"/><circle cx="99.6" cy="236.6" r="3.2" fill="#fff"/><circle cx="108.0" cy="250.3" r="3.2" fill="#fff"/></g>
<circle cx="91.15" cy="241.35" r="47.7" fill="none" stroke="#1a1a1a" stroke-width="3.8"/><clipPath id="k4"><circle cx="91" cy="436" r="47.5"/></clipPath>
<circle cx="91" cy="436" r="47.5" fill="#fff"/>
<g clip-path="url(#k4)"><pattern id="tex4" width="50" height="50" patternUnits="userSpaceOnUse" x="3" y="7"><rect width="50" height="50" fill="#e7e7e7"/><circle cx="22.6" cy="36.5" r="2.7" fill="#eaeaea" opacity="0.7"/><circle cx="28.0" cy="13.2" r="4.7" fill="#dfdfdf" opacity="0.7"/><circle cx="30.1" cy="6.1" r="4.5" fill="#dfdfdf" opacity="0.7"/><circle cx="34.3" cy="18.2" r="4.3" fill="#dfdfdf" opacity="0.7"/><circle cx="41.5" cy="9.3" r="3.6" fill="#eaeaea" opacity="0.7"/><circle cx="22.7" cy="20.2" r="4.3" fill="#eaeaea" opacity="0.7"/><circle cx="15.4" cy="33.6" r="4.2" fill="#dfdfdf" opacity="0.7"/><circle cx="30.8" cy="32.0" r="4.3" fill="#eaeaea" opacity="0.7"/><circle cx="10.0" cy="23.4" r="2.4" fill="#dfdfdf" opacity="0.7"/><circle cx="5.9" cy="20.3" r="3.0" fill="#eaeaea" opacity="0.7"/><circle cx="13.2" cy="28.4" r="3.0" fill="#eaeaea" opacity="0.7"/><circle cx="36.1" cy="39.4" r="3.2" fill="#dfdfdf" opacity="0.7"/><circle cx="30.0" cy="23.5" r="3.2" fill="#dfdfdf" opacity="0.7"/><circle cx="37.6" cy="24.3" r="5.0" fill="#dfdfdf" opacity="0.7"/><circle cx="22.6" cy="28.0" r="1.23" fill="#dadada"/><circle cx="22.6" cy="42.8" r="0.53" fill="#dcdcdc"/><circle cx="23.8" cy="30.7" r="0.53" fill="#dadada"/><circle cx="15.2" cy="4.5" r="1.12" fill="#d6d6d6"/><circle cx="31.7" cy="29.8" r="0.73" fill="#dadada"/><circle cx="32.7" cy="30.8" r="0.50" fill="#f1f1f1"/><circle cx="41.6" cy="3.2" r="0.38" fill="#efefef"/><circle cx="30.0" cy="38.9" r="0.66" fill="#dcdcdc"/><circle cx="42.1" cy="26.0" r="0.96" fill="#dadada"/><circle cx="0.2" cy="4.2" r="0.97" fill="#dadada"/><circle cx="49.9" cy="49.8" r="1.15" fill="#d6d6d6"/><circle cx="12.7" cy="37.9" r="0.84" fill="#f1f1f1"/><circle cx="3.5" cy="38.3" r="0.73" fill="#f4f4f4"/><circle cx="19.3" cy="47.9" r="1.15" fill="#f1f1f1"/><circle cx="10.7" cy="46.4" r="0.40" fill="#dadada"/><circle cx="49.0" cy="19.9" r="0.42" fill="#d6d6d6"/><circle cx="9.9" cy="33.7" r="0.67" fill="#f4f4f4"/><circle cx="16.6" cy="48.2" r="1.07" fill="#f1f1f1"/><circle cx="6.7" cy="35.4" r="0.36" fill="#dadada"/><circle cx="39.9" cy="8.9" r="0.88" fill="#dadada"/><circle cx="25.4" cy="49.3" r="1.08" fill="#dadada"/><circle cx="32.2" cy="5.8" r="0.75" fill="#efefef"/><circle cx="0.0" cy="43.2" r="1.28" fill="#dcdcdc"/><circle cx="15.2" cy="44.2" r="0.55" fill="#dadada"/><circle cx="49.8" cy="30.1" r="0.90" fill="#f1f1f1"/><circle cx="49.5" cy="10.7" r="0.60" fill="#dcdcdc"/><circle cx="16.4" cy="14.8" r="0.42" fill="#f1f1f1"/><circle cx="10.4" cy="31.8" r="0.36" fill="#f4f4f4"/><circle cx="18.6" cy="22.7" r="1.26" fill="#dadada"/><circle cx="41.6" cy="6.8" r="0.72" fill="#d6d6d6"/><circle cx="7.7" cy="45.4" r="1.13" fill="#efefef"/><circle cx="36.3" cy="7.9" r="0.95" fill="#dcdcdc"/><circle cx="9.8" cy="47.5" r="1.19" fill="#dcdcdc"/><circle cx="3.9" cy="2.4" r="0.45" fill="#dcdcdc"/><circle cx="48.1" cy="11.9" r="1.02" fill="#f4f4f4"/><circle cx="21.0" cy="45.2" r="0.82" fill="#dcdcdc"/><circle cx="8.8" cy="36.0" r="0.42" fill="#efefef"/><circle cx="24.0" cy="32.7" r="0.94" fill="#f1f1f1"/><circle cx="14.0" cy="45.9" r="0.54" fill="#f1f1f1"/><circle cx="3.5" cy="20.6" r="0.59" fill="#f1f1f1"/><circle cx="8.8" cy="18.4" r="0.89" fill="#efefef"/><circle cx="4.6" cy="6.9" r="0.78" fill="#f4f4f4"/><circle cx="32.8" cy="34.6" r="0.91" fill="#efefef"/><circle cx="29.5" cy="46.2" r="0.80" fill="#f4f4f4"/><circle cx="35.0" cy="48.1" r="0.37" fill="#d6d6d6"/><circle cx="3.7" cy="3.4" r="0.65" fill="#efefef"/><circle cx="50.0" cy="3.8" r="0.87" fill="#d6d6d6"/><circle cx="2.2" cy="46.8" r="1.05" fill="#efefef"/><circle cx="39.7" cy="45.8" r="0.68" fill="#d6d6d6"/><circle cx="23.7" cy="3.9" r="1.16" fill="#f1f1f1"/><circle cx="43.2" cy="28.6" r="0.94" fill="#dadada"/><circle cx="19.0" cy="0.6" r="0.42" fill="#f1f1f1"/><circle cx="32.0" cy="49.7" r="1.19" fill="#d6d6d6"/><circle cx="16.5" cy="46.7" r="1.01" fill="#dadada"/><circle cx="22.0" cy="41.9" r="0.43" fill="#dcdcdc"/><circle cx="1.5" cy="30.1" r="0.81" fill="#efefef"/><circle cx="47.9" cy="5.6" r="1.09" fill="#d6d6d6"/><circle cx="46.0" cy="12.8" r="0.36" fill="#f4f4f4"/><circle cx="7.2" cy="30.6" r="0.84" fill="#f4f4f4"/><circle cx="33.0" cy="22.1" r="1.20" fill="#f4f4f4"/><circle cx="20.2" cy="12.5" r="0.95" fill="#efefef"/><circle cx="44.0" cy="19.2" r="0.90" fill="#f4f4f4"/><circle cx="10.5" cy="6.7" r="0.68" fill="#f1f1f1"/><circle cx="35.6" cy="47.5" r="0.61" fill="#efefef"/><circle cx="5.6" cy="23.6" r="1.23" fill="#dadada"/><circle cx="19.1" cy="26.0" r="0.99" fill="#d6d6d6"/><circle cx="42.0" cy="49.1" r="0.78" fill="#f1f1f1"/><circle cx="41.4" cy="13.9" r="0.93" fill="#d6d6d6"/><circle cx="35.4" cy="28.5" r="0.64" fill="#dcdcdc"/><circle cx="1.0" cy="6.8" r="0.78" fill="#f1f1f1"/><circle cx="38.5" cy="13.3" r="1.09" fill="#f1f1f1"/><circle cx="49.2" cy="5.8" r="0.45" fill="#dcdcdc"/><circle cx="32.8" cy="40.4" r="1.26" fill="#d6d6d6"/><circle cx="9.9" cy="41.2" r="0.59" fill="#d6d6d6"/><circle cx="0.5" cy="23.6" r="1.03" fill="#efefef"/><circle cx="11.3" cy="38.9" r="0.86" fill="#dcdcdc"/><circle cx="25.0" cy="49.8" r="0.50" fill="#d6d6d6"/><circle cx="45.3" cy="4.4" r="1.24" fill="#d6d6d6"/><circle cx="19.4" cy="22.5" r="0.54" fill="#f1f1f1"/><circle cx="18.8" cy="28.4" r="1.19" fill="#f4f4f4"/><circle cx="23.2" cy="32.6" r="0.54" fill="#d6d6d6"/><circle cx="43.3" cy="39.9" r="1.23" fill="#f1f1f1"/><circle cx="10.7" cy="45.0" r="1.28" fill="#f4f4f4"/><circle cx="26.8" cy="39.5" r="0.65" fill="#d6d6d6"/><circle cx="42.8" cy="17.4" r="0.43" fill="#dadada"/><circle cx="17.1" cy="21.1" r="0.61" fill="#f1f1f1"/><circle cx="10.9" cy="43.4" r="0.76" fill="#f1f1f1"/><circle cx="8.6" cy="16.8" r="1.10" fill="#efefef"/><circle cx="23.5" cy="50.0" r="1.21" fill="#dcdcdc"/><circle cx="42.0" cy="34.5" r="1.25" fill="#dadada"/><circle cx="28.9" cy="34.5" r="1.07" fill="#dadada"/><circle cx="26.3" cy="14.5" r="1.04" fill="#d6d6d6"/><circle cx="8.2" cy="25.7" r="1.21" fill="#f4f4f4"/><circle cx="15.6" cy="19.1" r="1.15" fill="#dcdcdc"/><circle cx="10.4" cy="42.5" r="1.27" fill="#dcdcdc"/><circle cx="13.6" cy="24.9" r="0.74" fill="#f1f1f1"/><circle cx="25.2" cy="30.3" r="0.38" fill="#f1f1f1"/><circle cx="25.8" cy="20.0" r="1.11" fill="#dcdcdc"/><circle cx="6.1" cy="4.7" r="0.51" fill="#dcdcdc"/><circle cx="22.9" cy="46.0" r="1.11" fill="#dadada"/><circle cx="13.5" cy="23.7" r="0.47" fill="#dadada"/><circle cx="45.0" cy="46.8" r="1.22" fill="#dcdcdc"/><circle cx="15.9" cy="9.6" r="0.94" fill="#f4f4f4"/><circle cx="6.5" cy="39.0" r="0.37" fill="#efefef"/><circle cx="7.8" cy="0.6" r="0.62" fill="#d6d6d6"/><circle cx="17.8" cy="31.0" r="0.45" fill="#d6d6d6"/><circle cx="29.1" cy="42.6" r="0.94" fill="#d6d6d6"/><circle cx="9.9" cy="26.5" r="0.76" fill="#dadada"/><circle cx="31.7" cy="41.3" r="0.94" fill="#dcdcdc"/><circle cx="10.2" cy="31.6" r="0.96" fill="#dcdcdc"/><circle cx="10.8" cy="27.1" r="0.91" fill="#efefef"/><circle cx="11.6" cy="37.0" r="1.12" fill="#efefef"/><circle cx="15.8" cy="15.7" r="1.23" fill="#efefef"/><circle cx="38.9" cy="9.7" r="0.44" fill="#efefef"/><circle cx="6.6" cy="4.4" r="0.72" fill="#dadada"/><circle cx="41.6" cy="21.1" r="1.10" fill="#efefef"/><circle cx="10.0" cy="31.4" r="1.11" fill="#f1f1f1"/><circle cx="10.0" cy="34.1" r="1.22" fill="#f4f4f4"/><circle cx="5.8" cy="25.3" r="1.07" fill="#dcdcdc"/><circle cx="49.9" cy="41.6" r="1.11" fill="#dadada"/><circle cx="5.3" cy="1.9" r="0.87" fill="#dcdcdc"/><circle cx="45.3" cy="24.1" r="0.53" fill="#f1f1f1"/><circle cx="10.2" cy="42.0" r="1.29" fill="#d6d6d6"/><circle cx="4.8" cy="3.1" r="1.25" fill="#dadada"/><circle cx="3.9" cy="4.8" r="0.72" fill="#dadada"/><circle cx="25.8" cy="21.5" r="0.92" fill="#f1f1f1"/><circle cx="31.7" cy="2.0" r="0.54" fill="#dadada"/><circle cx="22.7" cy="37.0" r="0.74" fill="#efefef"/><circle cx="30.2" cy="4.7" r="1.10" fill="#f4f4f4"/><circle cx="44.7" cy="40.1" r="1.02" fill="#d6d6d6"/><circle cx="47.0" cy="28.5" r="0.53" fill="#dcdcdc"/><circle cx="49.1" cy="40.2" r="0.60" fill="#f1f1f1"/><circle cx="37.2" cy="38.9" r="1.12" fill="#dadada"/><circle cx="6.7" cy="16.5" r="0.86" fill="#f4f4f4"/><circle cx="38.4" cy="38.3" r="0.74" fill="#d6d6d6"/><circle cx="9.2" cy="39.9" r="0.64" fill="#f1f1f1"/><circle cx="0.5" cy="17.8" r="0.96" fill="#dcdcdc"/><circle cx="2.5" cy="13.6" r="1.26" fill="#f4f4f4"/><circle cx="16.9" cy="33.0" r="0.89" fill="#dcdcdc"/><circle cx="3.8" cy="25.7" r="0.82" fill="#efefef"/><circle cx="35.1" cy="38.1" r="1.28" fill="#f1f1f1"/><circle cx="5.7" cy="5.4" r="0.58" fill="#dadada"/><circle cx="20.1" cy="2.5" r="0.54" fill="#dadada"/><circle cx="0.5" cy="12.9" r="0.61" fill="#f4f4f4"/><circle cx="27.5" cy="25.4" r="1.27" fill="#dcdcdc"/><circle cx="42.3" cy="5.0" r="0.77" fill="#d6d6d6"/><circle cx="3.8" cy="29.9" r="1.07" fill="#f1f1f1"/><circle cx="19.3" cy="46.9" r="0.72" fill="#efefef"/><circle cx="42.8" cy="27.1" r="0.92" fill="#dadada"/><circle cx="47.3" cy="21.0" r="0.85" fill="#dcdcdc"/><circle cx="15.6" cy="26.5" r="0.81" fill="#f4f4f4"/><circle cx="28.0" cy="14.2" r="1.03" fill="#f4f4f4"/><circle cx="1.3" cy="38.6" r="0.91" fill="#d6d6d6"/><circle cx="7.8" cy="37.7" r="0.72" fill="#f4f4f4"/><circle cx="37.4" cy="2.5" r="1.29" fill="#f4f4f4"/><circle cx="3.7" cy="45.3" r="0.76" fill="#dadada"/><circle cx="12.5" cy="37.8" r="0.39" fill="#f1f1f1"/><circle cx="46.9" cy="36.1" r="0.79" fill="#efefef"/><circle cx="30.2" cy="5.8" r="0.94" fill="#dadada"/><circle cx="5.9" cy="43.1" r="0.69" fill="#efefef"/><circle cx="6.2" cy="22.1" r="0.98" fill="#dadada"/><circle cx="30.1" cy="32.0" r="1.00" fill="#f4f4f4"/><circle cx="38.9" cy="26.5" r="1.30" fill="#f4f4f4"/><circle cx="36.7" cy="11.9" r="0.46" fill="#f4f4f4"/><circle cx="39.2" cy="31.2" r="0.69" fill="#f4f4f4"/><circle cx="30.5" cy="36.3" r="1.01" fill="#efefef"/><circle cx="31.7" cy="37.7" r="0.53" fill="#efefef"/><circle cx="25.1" cy="32.6" r="0.54" fill="#d6d6d6"/><circle cx="2.0" cy="3.0" r="0.61" fill="#dadada"/><circle cx="1.3" cy="1.9" r="0.56" fill="#f4f4f4"/><circle cx="3.6" cy="4.3" r="0.99" fill="#dcdcdc"/><circle cx="11.7" cy="49.1" r="0.81" fill="#f4f4f4"/><circle cx="10.5" cy="17.2" r="1.06" fill="#f1f1f1"/><circle cx="40.1" cy="22.4" r="1.13" fill="#efefef"/><circle cx="22.2" cy="37.4" r="0.72" fill="#efefef"/><circle cx="18.4" cy="32.7" r="1.29" fill="#f4f4f4"/><circle cx="14.5" cy="37.9" r="1.13" fill="#efefef"/><circle cx="21.4" cy="18.5" r="0.44" fill="#f4f4f4"/><circle cx="3.9" cy="4.2" r="0.89" fill="#dadada"/><circle cx="40.8" cy="23.2" r="1.13" fill="#f1f1f1"/><circle cx="3.8" cy="10.7" r="0.98" fill="#f1f1f1"/><circle cx="34.8" cy="24.7" r="1.08" fill="#f4f4f4"/><circle cx="14.1" cy="7.1" r="0.69" fill="#d6d6d6"/><circle cx="16.4" cy="45.3" r="0.66" fill="#dadada"/><circle cx="28.5" cy="45.9" r="1.24" fill="#f4f4f4"/><circle cx="21.9" cy="40.2" r="0.64" fill="#f4f4f4"/><circle cx="11.1" cy="48.4" r="1.04" fill="#dcdcdc"/><circle cx="12.4" cy="18.1" r="0.70" fill="#f4f4f4"/><circle cx="33.9" cy="29.2" r="1.11" fill="#d6d6d6"/><circle cx="28.2" cy="39.9" r="0.86" fill="#dcdcdc"/><circle cx="28.1" cy="8.8" r="1.07" fill="#f4f4f4"/><circle cx="40.6" cy="11.1" r="0.40" fill="#efefef"/><circle cx="28.4" cy="48.3" r="0.97" fill="#dadada"/><circle cx="3.2" cy="27.3" r="1.10" fill="#f1f1f1"/><circle cx="16.7" cy="13.7" r="0.45" fill="#f4f4f4"/><circle cx="4.2" cy="31.7" r="0.49" fill="#d6d6d6"/><circle cx="40.8" cy="21.1" r="1.03" fill="#dadada"/><circle cx="38.3" cy="26.1" r="1.08" fill="#dadada"/><circle cx="17.5" cy="40.4" r="0.67" fill="#efefef"/><circle cx="24.7" cy="26.9" r="1.03" fill="#d6d6d6"/><circle cx="30.9" cy="2.3" r="1.07" fill="#d6d6d6"/><circle cx="17.5" cy="0.2" r="0.71" fill="#f1f1f1"/><circle cx="44.4" cy="47.9" r="0.96" fill="#dcdcdc"/><circle cx="18.1" cy="0.5" r="0.45" fill="#dadada"/><circle cx="45.8" cy="12.3" r="0.50" fill="#d6d6d6"/><circle cx="18.8" cy="8.4" r="0.54" fill="#dadada"/><circle cx="26.5" cy="13.7" r="1.19" fill="#dadada"/><circle cx="15.4" cy="5.7" r="0.97" fill="#efefef"/><circle cx="45.6" cy="37.7" r="0.37" fill="#dadada"/><circle cx="45.5" cy="1.8" r="0.45" fill="#efefef"/><circle cx="18.0" cy="29.4" r="0.92" fill="#dadada"/><circle cx="29.7" cy="11.2" r="0.53" fill="#f4f4f4"/><circle cx="20.1" cy="45.5" r="1.24" fill="#d6d6d6"/><circle cx="27.4" cy="40.9" r="0.81" fill="#f4f4f4"/><circle cx="24.2" cy="20.1" r="1.26" fill="#d6d6d6"/><circle cx="27.4" cy="47.9" r="0.81" fill="#efefef"/><circle cx="20.0" cy="10.9" r="0.48" fill="#dadada"/><circle cx="48.8" cy="39.7" r="1.09" fill="#f1f1f1"/><circle cx="32.9" cy="11.9" r="0.36" fill="#dadada"/><circle cx="45.3" cy="22.5" r="0.58" fill="#dadada"/><circle cx="30.3" cy="7.9" r="0.50" fill="#f4f4f4"/><circle cx="7.2" cy="45.4" r="1.12" fill="#efefef"/><circle cx="31.8" cy="49.7" r="0.60" fill="#dcdcdc"/><circle cx="2.6" cy="28.6" r="0.52" fill="#efefef"/><circle cx="41.1" cy="42.3" r="1.13" fill="#f1f1f1"/><circle cx="17.6" cy="30.7" r="0.85" fill="#dadada"/><circle cx="34.7" cy="4.1" r="1.06" fill="#dcdcdc"/><circle cx="42.9" cy="15.2" r="1.10" fill="#dadada"/><circle cx="9.7" cy="34.1" r="1.09" fill="#dadada"/><circle cx="10.4" cy="27.2" r="0.85" fill="#efefef"/><circle cx="47.3" cy="48.2" r="0.65" fill="#dadada"/><circle cx="3.8" cy="15.3" r="0.79" fill="#d6d6d6"/><circle cx="3.4" cy="3.7" r="0.48" fill="#d6d6d6"/><circle cx="19.7" cy="23.1" r="1.27" fill="#f1f1f1"/><circle cx="32.7" cy="0.6" r="0.71" fill="#d6d6d6"/><circle cx="23.8" cy="14.7" r="0.46" fill="#f1f1f1"/><circle cx="42.8" cy="42.2" r="1.03" fill="#dcdcdc"/><circle cx="7.6" cy="31.4" r="1.24" fill="#d6d6d6"/><circle cx="14.9" cy="16.9" r="0.72" fill="#d6d6d6"/><circle cx="4.3" cy="9.4" r="0.71" fill="#f1f1f1"/><circle cx="16.5" cy="47.3" r="0.88" fill="#d6d6d6"/><circle cx="32.0" cy="22.3" r="0.71" fill="#f1f1f1"/><circle cx="7.0" cy="4.7" r="0.99" fill="#d6d6d6"/><circle cx="9.0" cy="9.7" r="0.38" fill="#dadada"/><circle cx="29.6" cy="4.5" r="0.57" fill="#efefef"/><circle cx="49.4" cy="21.7" r="1.08" fill="#f4f4f4"/><circle cx="46.0" cy="21.4" r="0.84" fill="#d6d6d6"/><circle cx="10.3" cy="7.4" r="1.01" fill="#dadada"/><circle cx="16.6" cy="20.6" r="0.36" fill="#dadada"/><circle cx="30.7" cy="15.9" r="1.10" fill="#efefef"/><circle cx="33.0" cy="30.4" r="0.37" fill="#f4f4f4"/><circle cx="9.4" cy="15.3" r="0.77" fill="#dcdcdc"/><circle cx="18.9" cy="25.5" r="1.10" fill="#f1f1f1"/><circle cx="30.6" cy="7.9" r="1.08" fill="#f4f4f4"/><circle cx="27.4" cy="17.6" r="0.83" fill="#efefef"/><circle cx="28.7" cy="9.9" r="1.24" fill="#d6d6d6"/><circle cx="35.3" cy="46.8" r="0.89" fill="#f1f1f1"/><circle cx="31.4" cy="9.9" r="0.43" fill="#efefef"/><circle cx="23.9" cy="20.9" r="0.67" fill="#f1f1f1"/><circle cx="46.5" cy="18.1" r="0.79" fill="#f1f1f1"/></pattern>
<rect x="40" y="385" width="105" height="105" fill="url(#tex4)"/></g>
<circle cx="91" cy="436" r="47.5" fill="none" stroke="#1a1a1a" stroke-width="3.8"/><clipPath id="k5"><circle cx="847.4" cy="241.2" r="47.4"/></clipPath>
<circle cx="847.4" cy="241.2" r="47.4" fill="#fff"/>
<g clip-path="url(#k5)"><clipPath id="wd"><circle cx="847.4" cy="241.3" r="38.7"/></clipPath>
<circle cx="847.4" cy="241.3" r="38.7" fill="#f3d29e"/>
<g clip-path="url(#wd)"><rect x="835.7" y="200" width="3.5" height="85" fill="#f8dfb0" opacity="0.5"/><rect x="881.1" y="200" width="2.3" height="85" fill="#f8dfb0" opacity="0.5"/><rect x="838.4" y="200" width="3.0" height="85" fill="#f8dfb0" opacity="0.5"/><rect x="821.3" y="200" width="3.1" height="85" fill="#f8dfb0" opacity="0.5"/><rect x="835.3" y="200" width="2.4" height="85" fill="#f8dfb0" opacity="0.5"/><rect x="876.2" y="200" width="3.0" height="85" fill="#f8dfb0" opacity="0.5"/><rect x="831.5" y="200" width="2.7" height="85" fill="#f8dfb0" opacity="0.5"/><path d="M809.0 200 Q810.2 241 808.9 282" stroke="#e2b373" stroke-width="0.7" opacity="0.6" fill="none"/><path d="M813.7 200 Q813.9 241 813.1 282" stroke="#e8c08a" stroke-width="0.5" opacity="0.6" fill="none"/><path d="M819.0 200 Q818.2 241 818.3 282" stroke="#e8c08a" stroke-width="1.2" opacity="0.5" fill="none"/><path d="M825.2 200 Q824.1 241 826.1 282" stroke="#dcaa66" stroke-width="1.2" opacity="0.35" fill="none"/><path d="M827.5 200 Q827.8 241 828.4 282" stroke="#d9a560" stroke-width="0.5" opacity="0.7" fill="none"/><path d="M831.4 200 Q832.8 241 830.7 282" stroke="#e8c08a" stroke-width="1.2" opacity="0.7" fill="none"/><path d="M835.2 200 Q834.3 241 836.1 282" stroke="#e2b373" stroke-width="0.5" opacity="0.7" fill="none"/><path d="M839.3 200 Q839.5 241 839.3 282" stroke="#e8c08a" stroke-width="0.9" opacity="0.7" fill="none"/><path d="M843.2 200 Q844.3 241 844.2 282" stroke="#d9a560" stroke-width="0.7" opacity="0.35" fill="none"/><path d="M848.3 200 Q848.9 241 847.7 282" stroke="#d9a560" stroke-width="0.7" opacity="0.35" fill="none"/><path d="M854.1 200 Q852.8 241 854.8 282" stroke="#d9a560" stroke-width="0.9" opacity="0.35" fill="none"/><path d="M860.5 200 Q860.3 241 859.8 282" stroke="#d9a560" stroke-width="0.5" opacity="0.35" fill="none"/><path d="M864.0 200 Q864.3 241 864.5 282" stroke="#dcaa66" stroke-width="1.2" opacity="0.35" fill="none"/><path d="M867.8 200 Q869.3 241 867.4 282" stroke="#d9a560" stroke-width="0.9" opacity="0.5" fill="none"/><path d="M870.4 200 Q869.7 241 869.9 282" stroke="#e2b373" stroke-width="0.5" opacity="0.7" fill="none"/><path d="M875.5 200 Q876.9 241 876.3 282" stroke="#d9a560" stroke-width="0.9" opacity="0.6" fill="none"/><path d="M879.3 200 Q879.7 241 880.2 282" stroke="#e8c08a" stroke-width="1.2" opacity="0.35" fill="none"/><path d="M883.7 200 Q883.5 241 883.2 282" stroke="#e2b373" stroke-width="1.2" opacity="0.6" fill="none"/>
<ellipse cx="826" cy="264.5" rx="1.8" ry="1.2" fill="#c8914a" opacity="0.8"/><ellipse cx="838" cy="264" rx="2" ry="1.2" fill="#c8914a" opacity="0.8"/>
<ellipse cx="861" cy="213" rx="1.4" ry="1" fill="#d7a25c" opacity="0.6"/>
</g></g>
<circle cx="847.4" cy="241.2" r="47.4" fill="none" stroke="#1a1a1a" stroke-width="3.8"/><clipPath id="k6"><circle cx="842.7" cy="436.4" r="47.4"/></clipPath>
<circle cx="842.7" cy="436.4" r="47.4" fill="#fff"/>
<g clip-path="url(#k6)"><path d="M819.8 450.5v14a22.5 5.2 0 0 0 45 0v-14z" fill="#1f1f1c"/>
<ellipse cx="842.3" cy="450.5" rx="22.5" ry="5.7" fill="#2b2b28"/>
<line x1="842.3" y1="403" x2="842.3" y2="448" stroke="#9a9a9a" stroke-width="2"/><line x1="842.3" y1="403.5" x2="842.3" y2="448" stroke="#d2d2d2" stroke-width="0.9"/>
<ellipse cx="842.3" cy="450" rx="3.2" ry="1.4" fill="#121210"/></g>
<circle cx="842.7" cy="436.4" r="47.4" fill="none" stroke="#1a1a1a" stroke-width="3.8"/>
</svg></body></html>
